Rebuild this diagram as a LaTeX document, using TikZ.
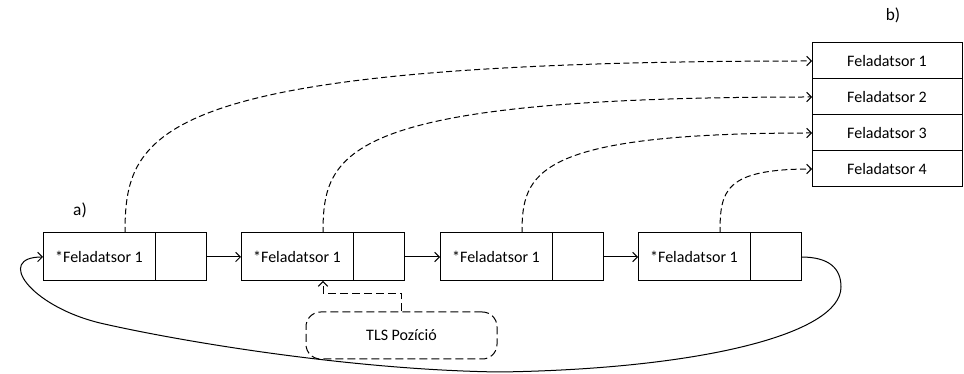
\documentclass[tikz,border=0pt]{standalone}
\usepackage{fontspec}
\setmainfont{Carlito}
\usetikzlibrary{positioning,arrows.meta}

\begin{document}
\begin{tikzpicture}[x=0.75pt,y=0.75pt,
	>={Straight Barb[length=3.5pt,width=7pt]},
	cell/.style={draw, line width=0.75pt, inner sep=0pt, outer sep=0pt,
		minimum height=36pt, font=\fontsize{12}{14}\selectfont},
	txtcell/.style={cell, minimum width=84pt},
	ptrcell/.style={cell, minimum width=38.25pt},
	qrow/.style={cell, minimum width=112.5pt, minimum height=27pt},
	lbl/.style={font=\fontsize{13}{15}\selectfont},
	link/.style={->, line width=0.75pt},
	qref/.style={->, line width=0.75pt, dash pattern=on 4.5pt off 2.5pt},
	tlsref/.style={->, line width=0.75pt, dash pattern=on 6pt off 3pt},
	tlsbox/.style={draw, line width=0.75pt, dash pattern=on 6pt off 3pt,
		rounded corners=11pt, minimum width=143.25pt, minimum height=35.25pt,
		font=\fontsize{12}{14}\selectfont}]

	\useasboundingbox (0,0) rectangle (964,374);

	% a) list elements
	\node[txtcell] (e1) at (99,117) {*Feladatsor 1};
	\node[ptrcell, right=0pt of e1] (p1) {};
	\node[txtcell] (e2) at (297,117) {*Feladatsor 1};
	\node[ptrcell, right=0pt of e2] (p2) {};
	\node[txtcell] (e3) at (496,117) {*Feladatsor 1};
	\node[ptrcell, right=0pt of e3] (p3) {};
	\node[txtcell] (e4) at (694,117) {*Feladatsor 1};
	\node[ptrcell, right=0pt of e4] (p4) {};
	\node[lbl] (la) at (80,164) {a)};

	% b) queue table
	\node[qrow] (t1) at (887,313) {Feladatsor 1};
	\node[qrow, below=0pt of t1] (t2) {Feladatsor 2};
	\node[qrow, below=0pt of t2] (t3) {Feladatsor 3};
	\node[qrow, below=0pt of t3] (t4) {Feladatsor 4};
	\node[lbl] (lb) at (893,359) {b)};

	% TLS
	\node[tlsbox] (tls) at (401.5,38.5) {TLS Pozíció};

	% next pointers
	\draw[link] (p1.east) -- (e2.west);
	\draw[link] (p2.east) -- (e3.west);
	\draw[link] (p3.east) -- (e4.west);

	% back to the first element
	\coordinate (loopR) at (841,87);
	\coordinate (loopB) at (500,2);
	\coordinate (loopL) at (100,51);
	\draw[link] (p4.east) .. controls +(29,0) and +(0,18) .. (loopR)
		.. controls +(0,-47) and +(200,3) .. (loopB)
		.. controls +(-150,2) and +(78,-18) .. (loopL)
		.. controls +(-70,17) and +(-48,0) .. (e1.west);

	% references into the table
	\draw[qref] ([xshift=19.5pt]e1.north) .. controls +(0,103) and +(-660,0) .. (t1.west);
	\draw[qref] ([xshift=19.5pt]e2.north) .. controls +(0,82) and +(-470,0) .. (t2.west);
	\draw[qref] ([xshift=19.5pt]e3.north) .. controls +(0,60) and +(-278,0) .. (t3.west);
	\draw[qref] ([xshift=19.5pt]e4.north) .. controls +(0,42) and +(-88,0) .. (t4.west);

	% TLS position
	\draw[tlsref] (tls.north) -- ++(0,18) -| ([xshift=19.5pt]e2.south);

\end{tikzpicture}
\end{document}
